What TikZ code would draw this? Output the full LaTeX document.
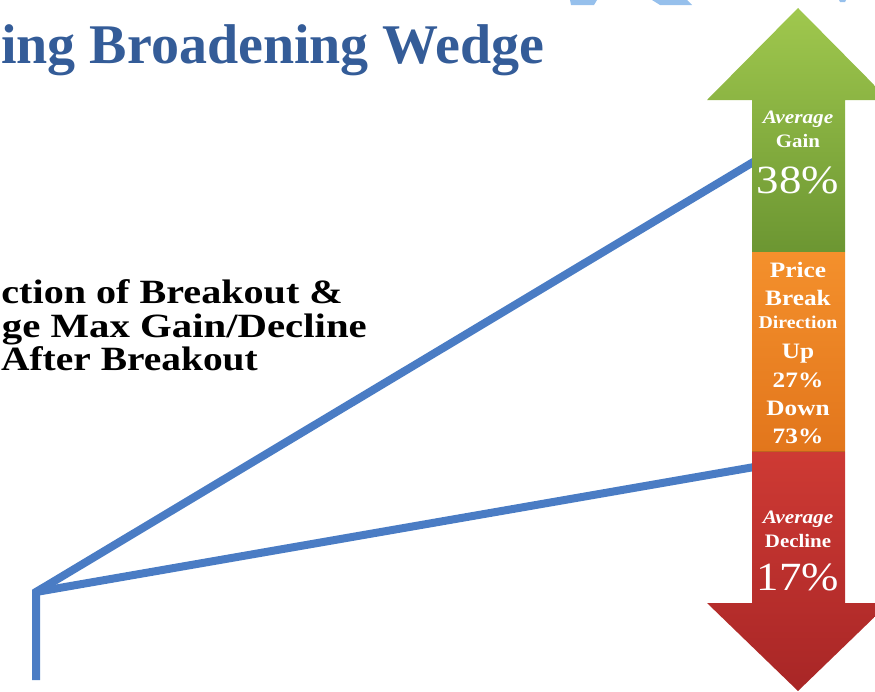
\documentclass[tikz,border=0pt]{standalone}
\usepackage{fontspec}
\setmainfont{Liberation Serif}
\definecolor{wedgeblue}{RGB}{74,124,196}
\definecolor{titleblue}{RGB}{52,92,152}
\definecolor{gaintop}{RGB}{160,200,78}
\definecolor{gainbot}{RGB}{108,150,50}
\definecolor{midtop}{RGB}{244,144,44}
\definecolor{midbot}{RGB}{226,118,28}
\definecolor{losstop}{RGB}{206,58,52}
\definecolor{lossbot}{RGB}{168,38,38}
\definecolor{markblue}{RGB}{150,192,236}
\definecolor{sepline}{RGB}{190,100,30}
\tikzset{
  wedgeline/.style={draw=wedgeblue, line width=8pt, line join=miter},
  arrowtext/.style={text=white, inner sep=0pt, anchor=base, font=\bfseries\fontsize{20}{22}\selectfont},
  arrowital/.style={arrowtext, font=\bfseries\itshape\fontsize{19}{21}\selectfont},
  arrowbig/.style={text=white, inner sep=0pt, anchor=base, font=\fontsize{40}{44}\selectfont},
  midtext/.style={arrowtext, font=\bfseries\fontsize{22}{24}\selectfont},
  labeltext/.style={anchor=base east, inner sep=0pt, font=\bfseries\fontsize{34}{36}\selectfont}
}
\newcommand{\wid}[2]{\scalebox{#1}[1]{#2}}
\begin{document}
\begin{tikzpicture}[x=1pt,y=-1pt]
\useasboundingbox (0,0) rectangle (875,691);
\clip (0,0) rectangle (875,691);

% watermark fragments at the top
\fill[markblue] (570,0) -- (597,0) -- (594,5) -- (571,5) -- cycle;
\fill[markblue] (652,0) -- (687,0) -- (692,5) -- (660,5) -- cycle;
\fill[markblue] (839,0) -- (846,0) -- (845,2) -- (840,2) -- cycle;

% title
\node[anchor=base west, inner sep=0pt, text=titleblue,
      font=\bfseries\fontsize{56}{60}\selectfont] (title) at (1,63) {ing Broadening Wedge};

% label
\node[labeltext] (lab1) at (343,303) {\wid{1.18}{ction of Breakout \&}};
\node[labeltext] (lab2) at (367,337) {\wid{1.2}{ge Max Gain/Decline}};
\node[labeltext] (lab3) at (258,370) {\wid{1.16}{After Breakout}};

% wedge lines
\coordinate (base) at (36,680);
\coordinate (apex) at (36,592);
\coordinate (upend) at (760,158);
\coordinate (lowend) at (760,466);
\draw[wedgeline] (base) -- (apex) -- (upend);
\draw[wedgeline] (apex) -- (lowend);

% green up arrow
\path[top color=gaintop, bottom color=gainbot]
  (798,8) -- (889,100) -- (845,100) -- (845,252) -- (752,252) -- (752,100) -- (707,100) -- cycle;
% orange middle block
\path[top color=midtop, bottom color=midbot] (752,252) rectangle (845,451);
\draw[draw=sepline, line width=1pt] (752,451) -- (845,451);
% red down arrow
\path[top color=losstop, bottom color=lossbot]
  (752,452) -- (845,452) -- (845,603) -- (889,603) -- (798,691) -- (707,603) -- (752,603) -- cycle;

% green texts
\node[arrowital] (g1) at (798,123) {\wid{1.12}{Average}};
\node[arrowtext, font=\bfseries\fontsize{19}{21}\selectfont] (g2) at (798,147) {\wid{1.1}{Gain}};
\node[arrowbig] (g3) at (798,193) {\wid{1.12}{38\%}};

% orange texts
\node[midtext] (o1) at (798,277) {\wid{1.15}{Price}};
\node[midtext] (o2) at (798,305) {\wid{1.15}{Break}};
\node[arrowtext, font=\bfseries\fontsize{18}{20}\selectfont] (o3) at (798,328) {\wid{1.1}{Direction}};
\node[midtext] (o4) at (798,358) {\wid{1.15}{Up}};
\node[midtext] (o5) at (798,387) {\wid{1.15}{27\%}};
\node[midtext] (o6) at (798,415) {\wid{1.15}{Down}};
\node[midtext] (o7) at (798,443) {\wid{1.15}{73\%}};

% red texts
\node[arrowital] (r1) at (798,523) {\wid{1.12}{Average}};
\node[arrowtext, font=\bfseries\fontsize{19}{21}\selectfont] (r2) at (798,547) {\wid{1.1}{Decline}};
\node[arrowbig] (r3) at (798,590) {\wid{1.12}{17\%}};
\end{tikzpicture}
\end{document}
